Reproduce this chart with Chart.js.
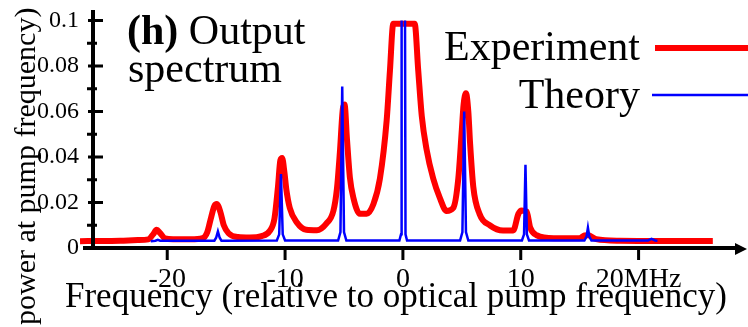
<!DOCTYPE html>
<html>
<head>
<meta charset="utf-8">
<script src="https://cdn.jsdelivr.net/npm/chart.js@4.4.1/dist/chart.umd.min.js"></script>
<style>
  html, body { margin: 0; padding: 0; background: #fff; }
</style>
</head>
<body>
<canvas id="chart" width="748" height="327"></canvas>
<script>

// Experiment (MHz, power relative to pump)
const expFreq = [-27.4, -25.5, -24, -22.5, -21.6, -21.2, -20.9, -20.6, -20.2, -19.5, -18, -17, -16.6, -16.3, -16.0, -15.8, -15.5, -15.2, -14.8, -14.0, -13.0, -12.0, -11.3, -10.9, -10.6, -10.4, -10.25, -10.05, -9.9, -9.6, -9.0, -8.2, -7.3, -6.5, -5.9, -5.6, -5.35, -5.1, -4.95, -4.75, -4.5, -4.2, -3.65, -3.08, -2.5, -1.95, -1.38, -1.1, -0.82, 1.0, 1.3, 1.6, 2.0, 2.57, 3.14, 3.7, 4.27, 4.7, 5.0, 5.15, 5.35, 5.55, 5.7, 5.97, 6.5, 7.4, 8.5, 9.36, 9.8, 10.07, 10.5, 10.8, 11.35, 12.8, 15.0, 15.4, 15.7, 16.4, 18.4, 22, 26.3]
const expPower = [0.0030, 0.0031, 0.0032, 0.0035, 0.0038, 0.0060, 0.0080, 0.0065, 0.0042, 0.0038, 0.0038, 0.0043, 0.0070, 0.0130, 0.0185, 0.0193, 0.0160, 0.0100, 0.0065, 0.0048, 0.0046, 0.0052, 0.0075, 0.0130, 0.0270, 0.0385, 0.0395, 0.0330, 0.0260, 0.0176, 0.0112, 0.0080, 0.0078, 0.0107, 0.0163, 0.0260, 0.0420, 0.0610, 0.0630, 0.0480, 0.0310, 0.0220, 0.0150, 0.0150, 0.0193, 0.0305, 0.0560, 0.0780, 0.0985, 0.0985, 0.0780, 0.0580, 0.0435, 0.0305, 0.0219, 0.0163, 0.0176, 0.0305, 0.0520, 0.0630, 0.0680, 0.0600, 0.0460, 0.0270, 0.0150, 0.0099, 0.0077, 0.0077, 0.0150, 0.0165, 0.0160, 0.0090, 0.0056, 0.0043, 0.0043, 0.0055, 0.0056, 0.0039, 0.0032, 0.0031, 0.0031]

// Theory
const theoryFreq = [-21.4, -21.0, -20.8, -20.6, -16.0, -15.85, -15.7, -15.55, -15.4, -10.7, -10.5, -10.35, -10.2, -10.0, -5.5, -5.3, -5.15, -5.0, -4.8, -0.3, -0.16, -0.11, 0.17, 0.22, 0.35, 4.85, 5.05, 5.2, 5.35, 5.55, 10.1, 10.28, 10.4, 10.52, 10.7, 15.4, 15.58, 15.7, 15.82, 16.0, 20.8, 21.1, 21.4, 21.6]
const theoryPower = [0.0030, 0.0032, 0.0036, 0.0032, 0.0032, 0.0045, 0.0073, 0.0045, 0.0032, 0.0033, 0.0060, 0.0325, 0.0060, 0.0033, 0.0033, 0.0070, 0.0710, 0.0070, 0.0033, 0.0033, 0.0060, 0.1200, 0.1200, 0.0060, 0.0033, 0.0033, 0.0070, 0.0600, 0.0070, 0.0033, 0.0033, 0.0060, 0.0366, 0.0060, 0.0033, 0.0033, 0.0050, 0.0089, 0.0050, 0.0033, 0.0033, 0.0040, 0.0033, 0.0032]

const seriesNames = ['Experiment', 'Theory']
const xTicks = [-20, -10, 0, 10, 20]
const xTickLabels = ['-20', '-10', '0', '10', '20MHz']
const yTicks = [0, 0.02, 0.04, 0.06, 0.08, 0.1]
const yTickLabels = ['0', '0.02', '0.04', '0.06', '0.08', '0.1']
const yMinorTicks = [0.01, 0.03, 0.05, 0.07, 0.09]
const xTitle = 'Frequency (relative to optical pump frequency)'
const yTitle = 'power at pump frequency)'
const panelTag = '(h)'
const panelTitle = ['Output', 'spectrum']

const serif = "'Liberation Serif', 'Times New Roman', serif"
Chart.defaults.font.family = serif
Chart.defaults.color = '#000'

// axes, ticks and arrow drawn on top of the data like in the figure
const axesPlugin = {
    id: 'axes',
    afterDatasetsDraw(chart) {
        const {ctx, chartArea} = chart
        const xs = chart.scales.x, ys = chart.scales.y
        const x0 = chartArea.left, y0 = chartArea.bottom
        ctx.save()
        ctx.strokeStyle = '#000'
        ctx.fillStyle = '#000'
        ctx.lineWidth = 4
        ctx.beginPath()
        ctx.moveTo(x0, y0 + 1)
        ctx.lineTo(x0, 10)
        ctx.moveTo(83, y0)
        ctx.lineTo(738, y0)
        ctx.stroke()
        ctx.beginPath()
        ctx.moveTo(747, y0 + 1)
        ctx.lineTo(735, y0 - 5)
        ctx.lineTo(735, y0 + 7)
        ctx.closePath()
        ctx.fill()

        ctx.lineWidth = 3
        ctx.beginPath()
        yTicks.forEach(v => {
            const p = ys.getPixelForValue(v)
            ctx.moveTo(x0 - 5, p)
            ctx.lineTo(x0 + 10, p)
        })
        yMinorTicks.forEach(v => {
            const p = ys.getPixelForValue(v)
            ctx.moveTo(x0 - 6, p)
            ctx.lineTo(x0 + 4, p)
        })
        xTicks.forEach(v => {
            const p = xs.getPixelForValue(v)
            ctx.moveTo(p, y0)
            ctx.lineTo(p, y0 + 12)
        })
        ctx.stroke()
        ctx.restore()
    }
}

// titles and legend (text first, line sample after it)
const textPlugin = {
    id: 'texts',
    afterDraw(chart) {
        const ctx = chart.ctx
        ctx.save()
        ctx.fillStyle = '#000'
        ctx.textBaseline = 'alphabetic'

        ctx.textAlign = 'left'
        ctx.font = 'bold 42px ' + serif
        ctx.fillText(panelTag, 127, 44)
        const w = ctx.measureText(panelTag + ' ').width
        ctx.font = '42px ' + serif
        ctx.fillText(panelTitle[0], 127 + w, 44)
        ctx.fillText(panelTitle[1], 128, 82)

        ctx.font = '35px ' + serif
        ctx.fillText(xTitle, 65, 307)

        ctx.save()
        ctx.translate(35, 325)
        ctx.rotate(-Math.PI / 2)
        ctx.font = '30px ' + serif
        ctx.fillText(yTitle, 0, 0)
        ctx.restore()

        ctx.textAlign = 'right'
        ctx.font = '42px ' + serif
        const rows = [{base: 60, line: 48, x1: 655}, {base: 108, line: 95, x1: 652}]
        chart.data.datasets.forEach((ds, i) => {
            ctx.fillStyle = '#000'
            ctx.fillText(ds.label, 640, rows[i].base)
            ctx.strokeStyle = ds.borderColor
            ctx.lineWidth = ds.borderWidth
            ctx.beginPath()
            ctx.moveTo(rows[i].x1, rows[i].line)
            ctx.lineTo(748, rows[i].line)
            ctx.stroke()
        })
        ctx.restore()
    }
}

const canvas = document.getElementById('chart')
const myChart = new Chart(canvas, {
    type: 'line',
    data: {
        datasets: [
            {
                label: seriesNames[0],
                data: expFreq.map((f, i) => ({x: f, y: expPower[i]})),
                borderColor: '#ff0000',
                borderWidth: 6,
                pointRadius: 0,
                cubicInterpolationMode: 'monotone',
                clip: false,
                order: 1
            },
            {
                label: seriesNames[1],
                data: theoryFreq.map((f, i) => ({x: f, y: theoryPower[i]})),
                borderColor: '#0000ff',
                borderWidth: 2.5,
                pointRadius: 0,
                tension: 0,
                clip: 0,
                order: 0
            }
        ]
    },
    options: {
        responsive: false,
        animation: false,
        devicePixelRatio: 1,
        layout: { padding: {top: 15, right: 1, left: 0, bottom: 0} },
        plugins: {
            legend: { display: false },
            tooltip: { enabled: false }
        },
        scales: {
            x: {
                type: 'linear',
                min: -26.3,
                max: 29.2,
                grid: { display: false },
                border: { display: false },
                afterBuildTicks: s => { s.ticks = xTicks.map(v => ({value: v})) },
                afterFit: s => { s.height = 79 },
                ticks: {
                    autoSkip: false,
                    maxRotation: 0,
                    padding: 7,
                    font: { size: 28 },
                    color: '#000',
                    callback: (v, i) => xTickLabels[i]
                }
            },
            y: {
                min: 0,
                max: 0.1,
                grid: { display: false },
                border: { display: false },
                afterBuildTicks: s => { s.ticks = yTicks.map(v => ({value: v})) },
                afterFit: s => { s.width = 93 },
                ticks: {
                    padding: 6,
                    font: { size: 24 },
                    color: '#000',
                    callback: (v, i) => yTickLabels[i]
                }
            }
        }
    },
    plugins: [axesPlugin, textPlugin]
})

</script>
</body>
</html>
